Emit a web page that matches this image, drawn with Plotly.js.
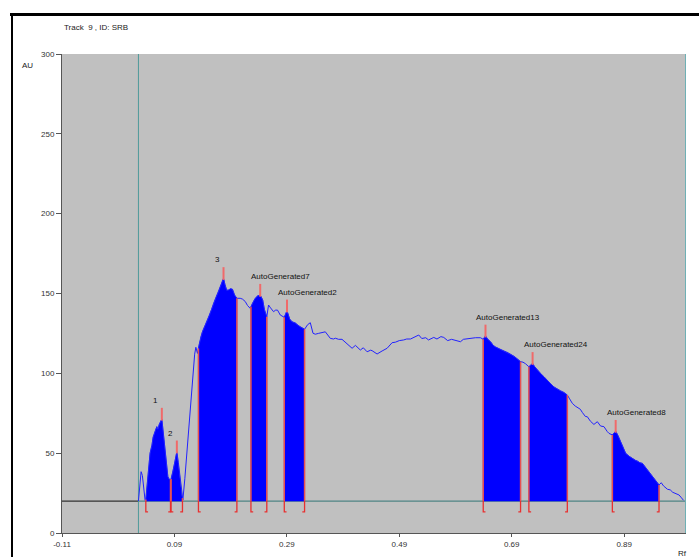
<!DOCTYPE html>
<html>
<head>
<meta charset="utf-8">
<script src="https://cdn.plot.ly/plotly-3.0.1.min.js"></script>
<style>
  html, body { margin: 0; padding: 0; background: #ffffff; }
  #wrap { position: relative; width: 699px; height: 557px; overflow: hidden; }
  #chart { position: absolute; left: 0; top: 0; width: 699px; height: 557px; }
  .frame { position: absolute; background: #000; pointer-events: none; }
</style>
</head>
<body>
<div id="wrap">
  <div id="chart"></div>
  <div class="frame" style="left:10px; top:13px; width:689px; height:3px;"></div>
  <div class="frame" style="left:11px; top:13px; width:2px; height:544px;"></div>
</div>
<script>
// ---- Densitogram trace (Rf vs AU) ----
const rf = [
  0.026, 0.028, 0.0307, 0.033, 0.036, 0.0378, 0.0391, 0.042, 0.0467, 0.050,
  0.0521, 0.0560, 0.0587, 0.0605, 0.0630, 0.0676, 0.0700, 0.0722, 0.0750, 0.0783,
  0.0810, 0.0836, 0.0870, 0.0905, 0.0943, 0.0970, 0.1002, 0.1030, 0.1050, 0.1085,
  0.1121, 0.1150, 0.1180, 0.1210, 0.1238, 0.1260, 0.1281, 0.1300, 0.1310, 0.1340,
  0.1370, 0.1399, 0.1440, 0.1477, 0.1520, 0.1560, 0.1595, 0.1640, 0.1684, 0.1730,
  0.1773, 0.1800, 0.1830, 0.1862, 0.1900, 0.1933, 0.1970, 0.2011, 0.2070, 0.2110,
  0.2159, 0.2200, 0.2248, 0.2290, 0.2337, 0.2380, 0.2426, 0.2470, 0.2500, 0.2543,
  0.2574, 0.2610, 0.2663, 0.2700, 0.2734, 0.2783, 0.2854, 0.2902, 0.2950, 0.2991,
  0.3050, 0.3100, 0.3139, 0.3215, 0.3270, 0.3317, 0.3365, 0.3406, 0.3460, 0.3530,
  0.3584, 0.3673, 0.3730, 0.3762, 0.3820, 0.3881, 0.3970, 0.4060, 0.4120, 0.4207,
  0.4260, 0.4327, 0.4390, 0.4416, 0.4505, 0.4560, 0.4594, 0.4683, 0.4772, 0.4830,
  0.4900, 0.4978, 0.5030, 0.5100, 0.5157, 0.5246, 0.5300, 0.5370, 0.5420, 0.5513,
  0.5570, 0.5640, 0.5691, 0.5760, 0.5830, 0.5880, 0.5988, 0.6040, 0.6100, 0.6166,
  0.6255, 0.6345, 0.6393, 0.6433, 0.6470, 0.6523, 0.6570, 0.6612, 0.6701, 0.6760,
  0.6820, 0.6880, 0.6938, 0.7000, 0.7057, 0.7100, 0.7146, 0.7205, 0.7271, 0.7300,
  0.7354, 0.7410, 0.7472, 0.7530, 0.7591, 0.7650, 0.7711, 0.7770, 0.7828, 0.7889,
  0.7930, 0.7978, 0.8030, 0.8067, 0.8120, 0.8156, 0.8210, 0.8245, 0.8300, 0.8362,
  0.8423, 0.8480, 0.8541, 0.8600, 0.8630, 0.8690, 0.8749, 0.8790, 0.8838, 0.8880,
  0.8927, 0.8990, 0.9047, 0.9100, 0.9136, 0.9180, 0.9225, 0.9270, 0.9314, 0.9370,
  0.9431, 0.9480, 0.9520, 0.9560, 0.9600, 0.9670, 0.9720, 0.9764, 0.9820, 0.9877,
  0.9920, 0.9955
];
const au = [
  20, 28, 38.4, 36, 25, 20.5, 21, 32, 50, 55,
  60, 64, 66.6, 65, 68, 71.4, 63, 54, 44, 35.3,
  33.5, 33.2, 38, 44, 50.9, 44, 33.2, 24, 20.7, 34,
  50.1, 64, 77.0, 90, 104.1, 112, 116.3, 113, 112.5, 118,
  123, 126.1, 129.5, 132.3, 136, 140, 143.8, 147.5, 151.1, 155,
  159.5, 155.5, 152, 152.2, 153, 152.6, 149, 147.0, 147.0, 146.5,
  145, 142.5, 140.7, 144, 147.0, 148.5, 149.0, 146, 140, 135.4,
  142.8, 141, 138.6, 139.6, 139.6, 136.5, 135.1, 139.2, 134, 132.3,
  131.5, 130, 129, 127.6, 130.5, 131.7, 125.1, 124.5, 125, 125.3,
  126, 121.9, 121.5, 122, 121.3, 121.3, 118.8, 115.7, 117.5, 114.6,
  116, 113.5, 114.5, 114.2, 112.1, 113, 114, 115.7, 119.2, 119.5,
  120.5, 120.9, 121.5, 121.5, 122.5, 124.0, 121.8, 122.3, 120.9, 122.5,
  121.5, 123, 122.5, 120.5, 121.3, 120.8, 119.8, 121.3, 121.6, 122,
  122.3, 122.3, 121.3, 123.5, 121.5, 119.8, 117.5, 116.5, 115.0, 114.2,
  113.2, 112, 110.8, 109, 107.3, 107, 106, 104.1, 106.3, 104.5,
  102, 100, 97.9, 95.5, 93.5, 91.5, 90.0, 89, 88, 86.4,
  84, 81.2, 79.5, 78.5, 77.5, 75.5, 73, 72.8, 70, 68,
  69.7, 67, 66.6, 63.5, 62.4, 61.4, 63.8, 61, 57.2, 53,
  49.9, 48, 46.5, 45.5, 45, 44, 43.6, 41.5, 39.5, 37,
  34.3, 31.5, 30.1, 31.5, 29.5, 27.4, 27, 25.5, 24.5, 23.8,
  22, 20.5
];

// ---- Integrated peaks ----
const regionStart = [0.0391, 0.0840, 0.1327, 0.2261, 0.2854, 0.6393, 0.7205, 0.8690];
const regionEnd   = [0.0830, 0.1043, 0.2011, 0.2543, 0.3215, 0.7057, 0.7889, 0.9520];
const apexRf      = [0.0676, 0.0943, 0.1773, 0.2426, 0.2902, 0.6433, 0.7271, 0.8749];
const peakLabels  = ['1', '2', '3', 'AutoGenerated7', 'AutoGenerated2',
                     'AutoGenerated13', 'AutoGenerated24', 'AutoGenerated8'];

const baselineAU = 20;
const originRf = 0.026;
const xTicks = [-0.11, 0.09, 0.29, 0.49, 0.69, 0.89];
const xTickText = ['-0.11', '0.09', '0.29', '0.49', '0.69', '0.89'];
const yTicks = [0, 50, 100, 150, 200, 250, 300];

function interp(x) {
  for (let i = 0; i < rf.length - 1; i++) {
    if (x >= rf[i] && x <= rf[i + 1]) {
      const t = (x - rf[i]) / (rf[i + 1] - rf[i]);
      return au[i] + t * (au[i + 1] - au[i]);
    }
  }
  return baselineAU;
}

const BLUE = '#0000ff';
const traces = [];

// baseline
traces.push({x: [-0.11, originRf], y: [baselineAU, baselineAU], mode: 'lines',
  line: {color: '#333333', width: 1.2}, hoverinfo: 'skip'});
traces.push({x: [originRf, 1.0], y: [baselineAU, baselineAU], mode: 'lines',
  line: {color: '#4f8485', width: 1.2}, hoverinfo: 'skip'});
// origin (application) line
traces.push({x: [originRf, originRf], y: [0, 300], mode: 'lines',
  line: {color: '#4f9a9a', width: 1}, hoverinfo: 'skip'});
// right border line
traces.push({x: [1.0, 1.0], y: [0, 300], mode: 'lines',
  line: {color: '#6fb0b5', width: 2}, hoverinfo: 'skip'});

// filled peak areas
for (let k = 0; k < regionStart.length; k++) {
  const s = regionStart[k], e = regionEnd[k];
  const px = [s], py = [interp(s)];
  for (let i = 0; i < rf.length; i++) {
    if (rf[i] > s && rf[i] < e) { px.push(rf[i]); py.push(au[i]); }
  }
  px.push(e); py.push(interp(e));
  px.push(e, s, s); py.push(baselineAU, baselineAU, interp(s));
  traces.push({x: px, y: py, mode: 'lines', fill: 'toself', fillcolor: BLUE,
    line: {color: BLUE, width: 0.5}, hoverinfo: 'skip'});
}

// densitogram line
traces.push({x: rf, y: au, mode: 'lines', line: {color: '#2222ff', width: 1},
  hoverinfo: 'skip'});

// region boundaries & brackets
const bx = [], by = [];
const brLow = 13.2, brW = 0.004;
for (let k = 0; k < regionStart.length; k++) {
  const s = regionStart[k], e = regionEnd[k];
  bx.push(s, s, null, e, e, null);
  by.push(baselineAU, interp(s), null, baselineAU, interp(e), null);
}
traces.push({x: bx, y: by, mode: 'lines', line: {color: '#e85050', width: 1.5},
  hoverinfo: 'skip', connectgaps: false});
const kx = [], ky = [];
for (let k = 0; k < regionStart.length; k++) {
  const s = regionStart[k], e = regionEnd[k];
  kx.push(s + brW, s, s, null, e - brW, e, e, null);
  ky.push(brLow, brLow, baselineAU, null, brLow, brLow, baselineAU, null);
}
traces.push({x: kx, y: ky, mode: 'lines', line: {color: '#e83030', width: 1.3},
  hoverinfo: 'skip', connectgaps: false});

// apex markers
const ax = [], ay = [];
for (let k = 0; k < apexRf.length; k++) {
  const v = interp(apexRf[k]);
  ax.push(apexRf[k], apexRf[k], null);
  ay.push(v - 1, v + 7, null);
}
traces.push({x: ax, y: ay, mode: 'lines', line: {color: '#f06a6a', width: 2},
  hoverinfo: 'skip', connectgaps: false});

const annotations = apexRf.map((r, k) => ({
  x: r, y: interp(r) + 7, xref: 'x', yref: 'y', text: peakLabels[k],
  showarrow: false, xanchor: 'left', yanchor: 'bottom', xshift: -11, yshift: 1,
  font: {family: 'Liberation Sans, Arial, sans-serif', size: 8, color: '#111'}
}));
annotations.push({x: 0, y: 1.056, xref: 'paper', yref: 'paper', text: 'Track  9 , ID: SRB',
  showarrow: false, xanchor: 'left', yanchor: 'middle',
  font: {family: 'Liberation Sans, Arial, sans-serif', size: 8, color: '#222'}});
annotations.push({x: -0.0545, y: 0.977, xref: 'paper', yref: 'paper', text: 'AU',
  showarrow: false, xanchor: 'center', yanchor: 'middle',
  font: {family: 'Liberation Sans, Arial, sans-serif', size: 8, color: '#222'}});
annotations.push({x: 0.995, y: -0.042, xref: 'paper', yref: 'paper', text: 'Rf',
  showarrow: false, xanchor: 'center', yanchor: 'middle',
  font: {family: 'Liberation Sans, Arial, sans-serif', size: 8, color: '#222'}});

const layout = {
  width: 699, height: 557,
  margin: {l: 62, r: 13, t: 54, b: 24, pad: 0},
  paper_bgcolor: '#ffffff', plot_bgcolor: '#c0c0c0',
  showlegend: false,
  xaxis: {range: [-0.11, 1.0], tickvals: xTicks, ticktext: xTickText,
    ticks: 'outside', ticklen: 3, tickcolor: '#555', showline: true, linecolor: '#555',
    linewidth: 1, showgrid: false, zeroline: false, fixedrange: true,
    tickfont: {family: 'Liberation Sans, Arial, sans-serif', size: 8, color: '#333'}},
  yaxis: {range: [0, 300], tickvals: yTicks, ticks: 'outside', ticklen: 5,
    tickcolor: '#555', showline: true, linecolor: '#555', linewidth: 1,
    showgrid: false, zeroline: false, fixedrange: true,
    tickfont: {family: 'Liberation Sans, Arial, sans-serif', size: 8, color: '#333'}},
  annotations: annotations
};

Plotly.newPlot('chart', traces, layout, {displayModeBar: false, staticPlot: true});
</script>
</body>
</html>
